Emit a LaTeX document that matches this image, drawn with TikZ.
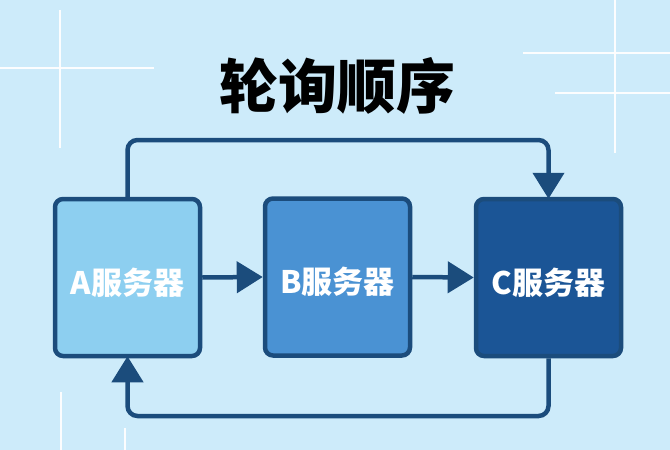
\documentclass[tikz,border=0pt]{standalone}
\usepackage{fontspec}
\newfontfamily\cjk{Noto Sans CJK SC}
\usetikzlibrary{arrows.meta}
\definecolor{bg}{HTML}{CDEBFA}
\definecolor{edge}{HTML}{1B4C7C}
\definecolor{fillA}{HTML}{8DCFF0}
\definecolor{fillB}{HTML}{4A92D3}
\definecolor{fillC}{HTML}{1B5596}
\newcommand{\lowered}[1]{\raisebox{-5pt}[\height][\depth]{#1}}
\tikzset{
  server/.style={draw=edge, line width=4.5pt, rounded corners=8pt, minimum width=145pt, minimum height=157pt, inner sep=0pt, text=white, font=\cjk\bfseries\fontsize{31}{34}\selectfont},
  conn/.style={draw=edge, line width=4.5pt, -{Triangle[width=31pt,length=26pt]}},
  gridline/.style={draw=white, line width=2.5pt, opacity=0.95}
}
\begin{document}
\begin{tikzpicture}[x=1pt,y=-1pt]
\fill[bg] (0,0) rectangle (670,450);
\useasboundingbox (0,0) rectangle (670,450);
% decorative white lines
\draw[gridline] (60,10) -- (60,148);
\draw[gridline] (0,68) -- (154,68);
\draw[gridline] (615,0) -- (615,153);
\draw[gridline] (523,53) -- (670,53);
\draw[gridline] (555,93) -- (670,93);
\draw[gridline] (61,392) -- (61,450);
\draw[gridline] (125,428) -- (125,450);
% title
\node[font=\cjk\bfseries\fontsize{59}{62}\selectfont, text=black] (title) at (337,86) {轮询顺序};
% servers
\node[server, fill=fillA] (A) at (127.5,277.5) {\lowered{A服务器}};
\node[server, fill=fillB] (B) at (337.5,277) {\lowered{B服务器}};
\node[server, fill=fillC] (C) at (548.5,277.5) {\lowered{C服务器}};
% connectors
\coordinate (t1) at (127.5,140);
\coordinate (t2) at (548.5,140);
\coordinate (b1) at (548.5,416);
\coordinate (b2) at (127.5,416);
\draw[conn] (A.east) -- (B.west);
\draw[conn] (B.east) -- (C.west);
\draw[conn, rounded corners=10pt] (A.north) -- (t1) -- (t2) -- ([yshift=-2pt]C.north);
\draw[conn, rounded corners=10pt] (C.south) -- (b1) -- (b2) -- ([yshift=2pt]A.south);
\end{tikzpicture}
\end{document}
